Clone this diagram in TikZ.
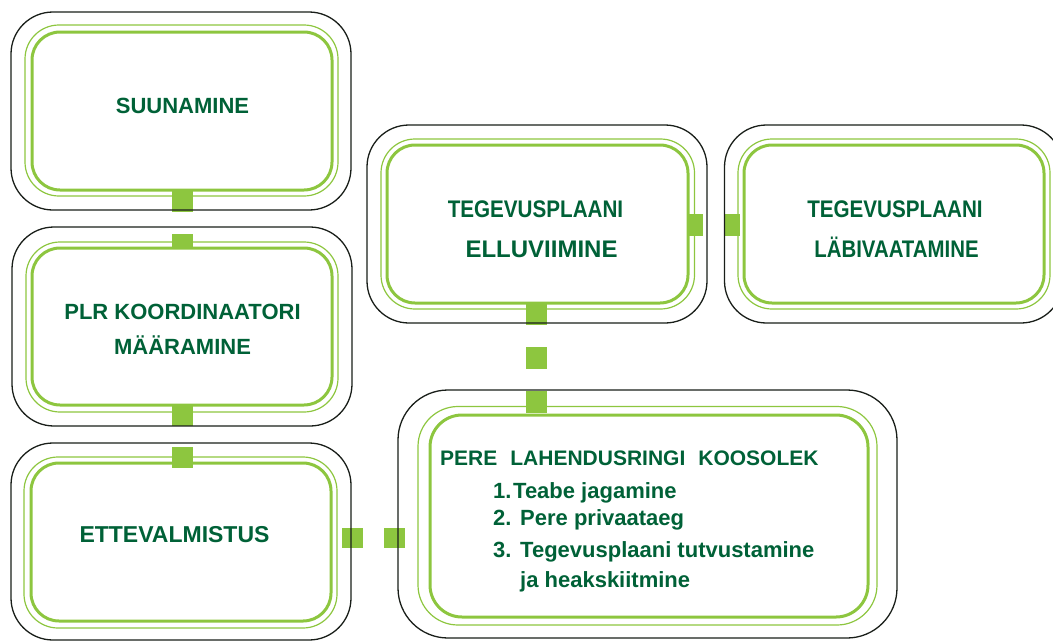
\documentclass[tikz,border=0pt]{standalone}
\usepackage{fontspec}
\setmainfont{Liberation Sans}
\usepackage{graphicx}
\usetikzlibrary{calc}
\definecolor{tgreen}{RGB}{0,97,55}
\definecolor{lgreen}{RGB}{141,198,63}
\definecolor{frameblack}{RGB}{25,30,25}
\newcommand{\myframeline}[7]{%
  \draw[#2, rounded corners=#7] ($(#1.north west)+(-#3,-#4)$) rectangle ($(#1.south east)+(#5,#6)$);}
\begin{document}
\begin{tikzpicture}[x=1pt,y=-1pt,
  box/.style={draw=lgreen, line width=3pt, rounded corners=28pt, outer sep=0pt, inner sep=0pt},
  lightline/.style={draw=lgreen, line width=1.2pt},
  blackline/.style={draw=frameblack, line width=1.3pt},
  conn/.style={draw=lgreen, line width=21pt, dash pattern=on 22pt off 22pt},
  lab/.style={text=tgreen, font=\bfseries\fontsize{22pt}{26pt}\selectfont, inner sep=0pt, anchor=base},
  big/.style={font=\bfseries\fontsize{24pt}{28pt}\selectfont},
  item/.style={text=tgreen, font=\bfseries\fontsize{22pt}{26pt}\selectfont, inner sep=0pt, anchor=base west}]
\useasboundingbox (0,0) rectangle (1053,641);
\clip (0,0) rectangle (1053,641);
% main boxes (thick green)
\node[box, minimum width=300pt, minimum height=158pt] (b1) at (182,111) {};
\node[box, minimum width=300pt, minimum height=157pt] (b2) at (182,326.5) {};
\node[box, minimum width=300pt, minimum height=158pt] (b3) at (181,542) {};
\node[box, minimum width=301pt, minimum height=158pt] (b4) at (537.5,224) {};
\node[box, minimum width=300pt, minimum height=158pt] (b5) at (894,224) {};
\node[box, rounded corners=32pt, minimum width=438pt, minimum height=202pt] (b6) at (649,516) {};
% light green frames
\myframeline{b1}{lightline}{7}{7}{6}{6}{34pt}
\myframeline{b2}{lightline}{6}{6}{6}{7}{34pt}
\myframeline{b3}{lightline}{7}{6}{6}{7}{34pt}
\myframeline{b4}{lightline}{6}{6}{6.5}{6}{34pt}
\myframeline{b5}{lightline}{6}{6}{6}{6}{34pt}
\myframeline{b6}{lightline}{12}{8.5}{9}{8}{40pt}
% connectors
\draw[conn] (b1.south) -- (b1.south |- b2.north);
\draw[conn, dash pattern=on 21pt off 21pt, shorten >=-5pt] (b2.south) -- (b2.south |- b3.north);
\draw[conn, line width=20pt, dash pattern=on 21pt off 21pt, shorten <=11pt, shorten >=24pt]
  ([yshift=4pt]b3.east) -- ([yshift=4pt]b3.east -| b6.west);
\draw[conn, line width=22pt, dash pattern=on 15pt off 22pt]
  ([yshift=-1pt]b4.east) -- ([yshift=-1pt]b4.east -| b5.west);
\draw[conn] ([xshift=-1pt]b4.south) -- ([xshift=-1pt]b4.south |- b6.north);
% outer black frames
\myframeline{b1}{blackline}{21}{20}{19}{20}{42pt}
\myframeline{b2}{blackline}{20}{21}{20}{21}{42pt}
\myframeline{b3}{blackline}{20}{20}{20}{19}{42pt}
\myframeline{b4}{blackline}{20}{20}{19}{20}{42pt}
\myframeline{b5}{blackline}{19.5}{20}{19}{20}{42pt}
\myframeline{b6}{blackline}{32}{25}{29}{21}{50pt}
% texts
\node[lab] (t1) at (182.5,113) {SUUNAMINE};
\node[lab] (t2a) at (182.5,319) {PLR KOORDINAATORI};
\node[lab] (t2b) at (182.5,354) {MÄÄRAMINE};
\node[lab, font=\bfseries\fontsize{23pt}{27pt}\selectfont] (t3) at (174.5,542) {ETTEVALMISTUS};
\node[lab, big] (t4a) at (535.5,217) {\scalebox{0.86}[1]{TEGEVUSPLAANI}};
\node[lab, big] (t4b) at (541.5,257) {ELLUVIIMINE};
\node[lab, big] (t5a) at (895,217) {\scalebox{0.86}[1]{TEGEVUSPLAANI}};
\node[lab, big] (t5b) at (896.5,257) {\scalebox{0.85}[1]{LÄBIVAATAMINE}};
\node[lab, anchor=base west, font=\bfseries\fontsize{21pt}{25pt}\selectfont] (t6) at (440,465)
  {PERE\hspace{13pt}LAHENDUSRINGI\hspace{13pt}KOOSOLEK};
\node[item] (i1) at (493,498) {\makebox[20pt][l]{1.}Teabe jagamine};
\node[item] (i2) at (493,525) {\makebox[27pt][l]{2.}Pere privaataeg};
\node[item] (i3) at (493,557) {\makebox[27pt][l]{3.}Tegevusplaani tutvustamine};
\node[item] (i4) at (520,587) {ja heakskiitmine};
\end{tikzpicture}
\end{document}
